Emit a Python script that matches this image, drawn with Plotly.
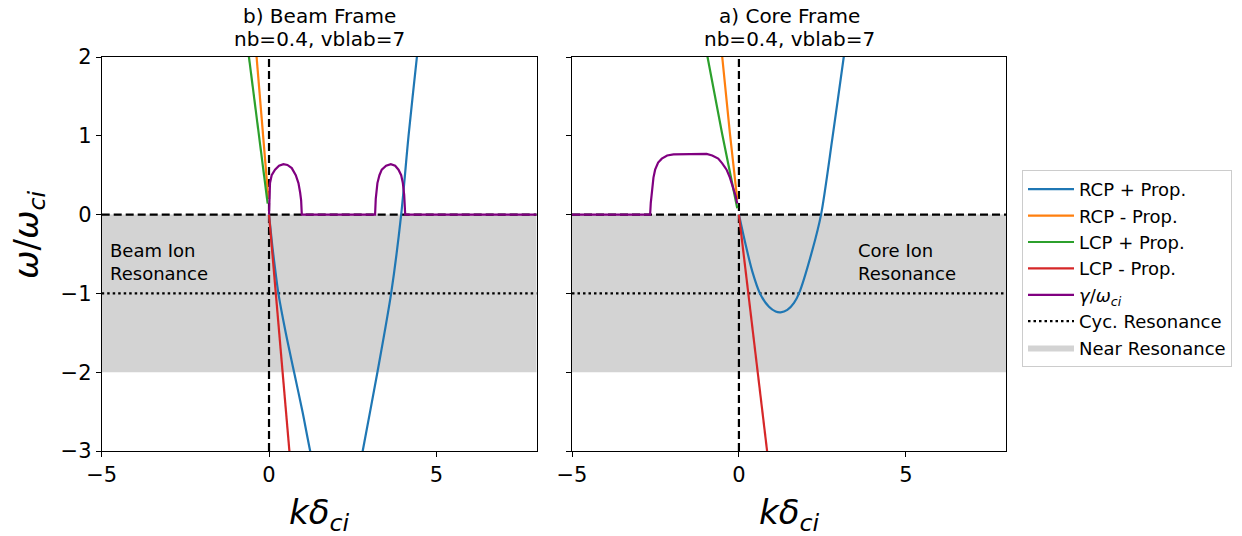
import plotly.graph_objects as go

# ---------------- data: beam frame (left panel) ----------------
beam_rcp_plus_k = [0.0, 0.1, 0.2, 0.28, 0.5, 0.75, 1.0, 1.23, 1.5, 2.0, 2.5, 2.8, 3.24, 3.65, 3.95, 4.17, 4.42, 4.6]
beam_rcp_plus_w = [0.0, -0.4, -0.75, -1.0, -1.5, -2.0, -2.5, -3.0, -3.5, -3.9, -3.7, -3.0, -2.0, -1.0, 0.0, 1.0, 2.0, 2.7]
beam_rcp_minus_k = [-0.4, -0.37, -0.2, -0.02]
beam_rcp_minus_w = [2.15, 2.0, 1.05, 0.2]
beam_lcp_plus_k = [-0.63, -0.6, -0.3, -0.04]
beam_lcp_plus_w = [2.1, 2.0, 1.0, 0.14]
beam_lcp_minus_k = [0.0, 0.61, 0.65]
beam_lcp_minus_w = [0.0, -3.0, -3.2]
beam_gamma_k = [0.0, 0.01, 0.03, 0.08, 0.18, 0.3, 0.43, 0.55, 0.68, 0.8, 0.88, 0.93, 0.96, 0.98,
                3.17, 3.19, 3.24, 3.3, 3.37, 3.5, 3.64, 3.77, 3.87, 3.95, 4.0, 4.04, 4.06, 4.07, 8.0]
beam_gamma_w = [0.0, 0.15, 0.40, 0.50, 0.57, 0.62, 0.64, 0.63, 0.59, 0.50, 0.40, 0.28, 0.18, 0.0,
                0.0, 0.2, 0.40, 0.50, 0.57, 0.62, 0.64, 0.62, 0.57, 0.50, 0.40, 0.25, 0.15, 0.0, 0.0]

# ---------------- data: core frame (right panel) ----------------
core_rcp_plus_k = [0.0, 0.2, 0.4, 0.63, 0.9, 1.1, 1.25, 1.45, 1.65, 1.8, 2.2, 2.46, 2.8, 3.14, 3.3]
core_rcp_plus_w = [0.0, -0.38, -0.72, -1.0, -1.17, -1.23, -1.24, -1.21, -1.12, -1.0, -0.45, 0.0, 0.97, 2.0, 2.5]
core_rcp_minus_k = [-0.53, -0.5, -0.27, -0.05]
core_rcp_minus_w = [2.15, 2.0, 1.03, 0.19]
core_lcp_plus_k = [-0.98, -0.94, -0.5, -0.05]
core_lcp_plus_w = [2.1, 2.0, 1.02, 0.08]
core_lcp_minus_k = [0.0, 0.85, 0.9]
core_lcp_minus_w = [0.0, -3.0, -3.2]
core_gamma_k = [-5.0, -2.66, -2.64, -2.61, -2.56, -2.51, -2.42, -2.31, -2.15, -1.96, -1.5, -0.97,
                -0.8, -0.62, -0.5, -0.37, -0.27, -0.17, -0.1, -0.05]
core_gamma_w = [0.0, 0.0, 0.15, 0.31, 0.47, 0.57, 0.66, 0.71, 0.75, 0.765, 0.77, 0.77,
                0.75, 0.71, 0.65, 0.57, 0.47, 0.35, 0.24, 0.14]

# reference levels
x_range = [-5, 8]
y_range = [-3, 2]
cyclotron_level = -1.0
near_band = [-2.0, 0.0]
x_ticks = [-5, 0, 5]
y_ticks = [-3, -2, -1, 0, 1, 2]

panel_titles = ["b) Beam Frame", "a) Core Frame"]
panel_subtitle = "nb=0.4, vblab=7"
band_labels = ["Beam Ion<br>Resonance", "Core Ion<br>Resonance"]
band_label_x = [-4.8, 3.52]
band_label_y = -0.6

series_names = ["RCP + Prop.", "RCP - Prop.", "LCP + Prop.", "LCP - Prop.",
                "<i>γ</i>/<i>ω</i><sub><i>ci</i></sub>"]
series_colors = ["#1f77b4", "#ff7f0e", "#2ca02c", "#d62728", "#800080"]
series_shapes = ["spline", "linear", "linear", "linear", "linear"]

panels = [
    [(beam_rcp_plus_k, beam_rcp_plus_w), (beam_rcp_minus_k, beam_rcp_minus_w),
     (beam_lcp_plus_k, beam_lcp_plus_w), (beam_lcp_minus_k, beam_lcp_minus_w),
     (beam_gamma_k, beam_gamma_w)],
    [(core_rcp_plus_k, core_rcp_plus_w), (core_rcp_minus_k, core_rcp_minus_w),
     (core_lcp_plus_k, core_lcp_plus_w), (core_lcp_minus_k, core_lcp_minus_w),
     (core_gamma_k, core_gamma_w)],
]

FONT = "DejaVu Sans"
fig = go.Figure()

for p, curves in enumerate(panels):
    xa = "x" if p == 0 else "x2"
    ya = "y" if p == 0 else "y2"
    first = p == 0
    # near-resonance band
    fig.add_trace(go.Scatter(
        x=[x_range[0], x_range[1], x_range[1], x_range[0], x_range[0]],
        y=[near_band[0], near_band[0], near_band[1], near_band[1], near_band[0]],
        fill="toself", fillcolor="#d3d3d3", mode="lines", line=dict(width=0, color="#d3d3d3"),
        name="Near Resonance", legendgroup="near", legendrank=7, showlegend=first,
        xaxis=xa, yaxis=ya, hoverinfo="skip"))
    # cyclotron resonance
    fig.add_trace(go.Scatter(
        x=x_range, y=[cyclotron_level, cyclotron_level], mode="lines",
        line=dict(color="black", width=2.2, dash="2.5px,3px"),
        name="Cyc. Resonance", legendgroup="cyc", legendrank=6, showlegend=first,
        xaxis=xa, yaxis=ya))
    # zero lines
    fig.add_trace(go.Scatter(
        x=x_range, y=[0, 0], mode="lines", line=dict(color="black", width=2.2, dash="8px,4px"),
        showlegend=False, xaxis=xa, yaxis=ya))
    fig.add_trace(go.Scatter(
        x=[0, 0], y=y_range, mode="lines", line=dict(color="black", width=2.2, dash="8px,4px"),
        showlegend=False, xaxis=xa, yaxis=ya))
    for i, (k, w) in enumerate(curves):
        fig.add_trace(go.Scatter(
            x=k, y=w, mode="lines",
            line=dict(color=series_colors[i], width=2.2, shape=series_shapes[i], smoothing=0.8),
            name=series_names[i], legendgroup=f"s{i}", legendrank=i + 1, showlegend=first,
            xaxis=xa, yaxis=ya))

axis_common = dict(showgrid=False, zeroline=False, showline=True, mirror=True, automargin=False,
                   linecolor="black", linewidth=1, ticks="outside", ticklen=5,
                   tickcolor="black", tickwidth=1, tickfont=dict(family=FONT, size=21, color="black"))

x1_dom = [101.7 / 1242, 536.7 / 1242]
x2_dom = [572.0 / 1242, 1006.0 / 1242]
y_dom = [1 - 451.0 / 536, 1 - 57.0 / 536]

fig.update_layout(
    width=1242, height=536,
    margin=dict(l=0, r=0, t=0, b=0, autoexpand=False),
    paper_bgcolor="white", plot_bgcolor="white",
    font=dict(family=FONT, color="black"),
    xaxis=dict(domain=x1_dom, range=x_range, tickvals=x_ticks, anchor="y", **axis_common),
    yaxis=dict(domain=y_dom, range=y_range, tickvals=y_ticks, anchor="x", **axis_common),
    xaxis2=dict(domain=x2_dom, range=x_range, tickvals=x_ticks, anchor="y2", **axis_common),
    yaxis2=dict(domain=y_dom, range=y_range, tickvals=y_ticks, anchor="x2",
                showticklabels=False, **axis_common),
    legend=dict(x=1022 / 1242, y=1 - 170 / 536, xanchor="left", yanchor="top",
                font=dict(family=FONT, size=18, color="black"),
                bordercolor="#cccccc", borderwidth=1, bgcolor="white",
                traceorder="grouped", tracegroupgap=0, itemwidth=46),
    showlegend=True,
)

panel_centers = [(x1_dom[0] + x1_dom[1]) / 2, (x2_dom[0] + x2_dom[1]) / 2]
for p in range(2):
    fig.add_annotation(x=panel_centers[p], y=1 - 16 / 536, xref="paper", yref="paper",
                       text=panel_titles[p], showarrow=False, xanchor="center", yanchor="middle",
                       font=dict(family=FONT, size=20, color="black"))
    fig.add_annotation(x=panel_centers[p], y=1 - 39 / 536, xref="paper", yref="paper",
                       text=panel_subtitle, showarrow=False, xanchor="center", yanchor="middle",
                       font=dict(family=FONT, size=20, color="black"))
    fig.add_annotation(x=panel_centers[p], y=1 - 514 / 536, xref="paper", yref="paper",
                       text="<i>kδ</i><sub><i>ci</i></sub>", showarrow=False,
                       xanchor="center", yanchor="middle",
                       font=dict(family=FONT, size=34, color="black"))
    fig.add_annotation(x=band_label_x[p], y=band_label_y,
                       xref="x" if p == 0 else "x2", yref="y" if p == 0 else "y2",
                       text=band_labels[p], showarrow=False, xanchor="left", yanchor="middle",
                       align="left", font=dict(family=FONT, size=18, color="black"))

fig.add_annotation(x=28 / 1242, y=1 - 235 / 536, xref="paper", yref="paper",
                   text="<i>ω</i>/<i>ω</i><sub><i>ci</i></sub>", showarrow=False, textangle=-90,
                   xanchor="center", yanchor="middle",
                   font=dict(family=FONT, size=34, color="black"))

fig.write_html("out.html")
